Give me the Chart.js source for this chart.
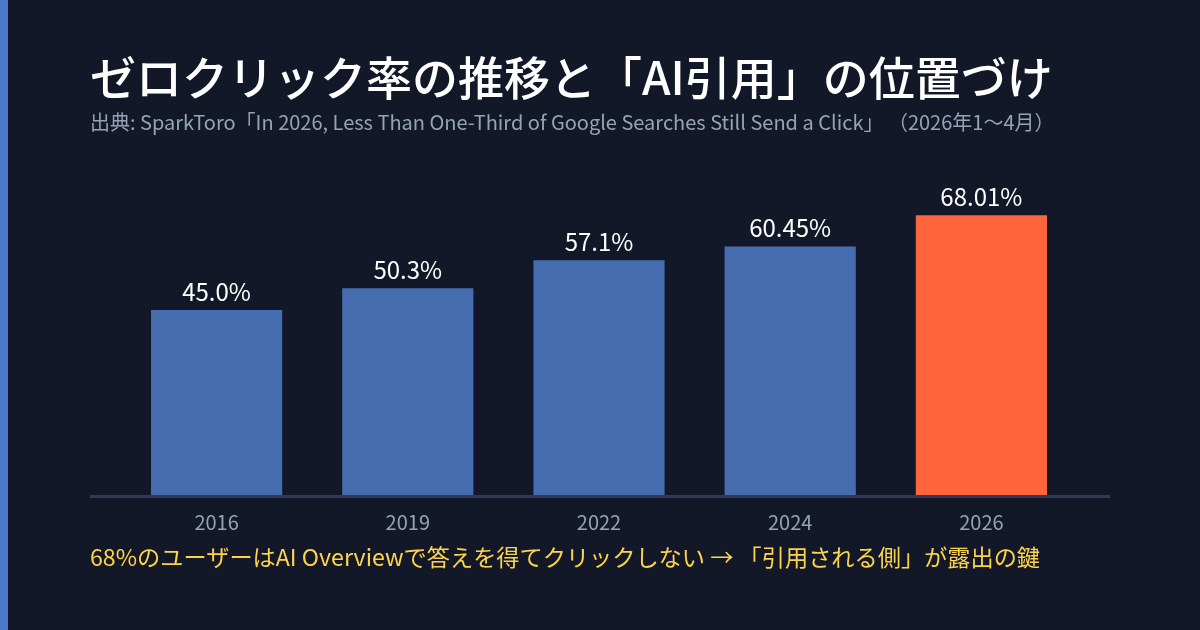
<!DOCTYPE html>
<html lang="ja">
<head>
<meta charset="utf-8">
<script src="https://cdn.jsdelivr.net/npm/chart.js@4/dist/chart.umd.min.js"></script>
<style>
  html, body { margin: 0; padding: 0; }
  body {
    width: 1200px; height: 630px; overflow: hidden; position: relative;
    background: #131829;
    font-family: "Noto Sans CJK JP", "Noto Sans", sans-serif;
  }
  .accent { position: absolute; left: 0; top: 0; width: 8px; height: 630px; background: #4a78c8; }
  h1 {
    position: absolute; left: 90px; top: 48px; margin: 0;
    font-size: 46px; font-weight: 500; color: #ffffff; line-height: 1.2; white-space: nowrap;
  }
  .sub {
    position: absolute; left: 90px; top: 108px; margin: 0;
    font-size: 20px; color: #94a3b8; line-height: 1.4; white-space: nowrap;
  }
  .note {
    position: absolute; left: 90px; top: 540px; margin: 0;
    font-size: 23.2px; color: #fcd34d; line-height: 1.4; white-space: nowrap;
  }
  #chartWrap { position: absolute; left: 0; top: 0; width: 1200px; height: 630px; }
</style>
</head>
<body>
<div class="accent"></div>
<div id="chartWrap"><canvas id="mainChart" width="1200" height="630"></canvas></div>
<h1>ゼロクリック率の推移と「AI引用」の位置づけ</h1>
<p class="sub">出典: SparkToro「In 2026, Less Than One-Third of Google Searches Still Send a Click」 （2026年1〜4月）</p>
<p class="note">68%のユーザーはAI Overviewで答えを得てクリックしない → 「引用される側」が露出の鍵</p>
<script>
const years = ['2016', '2019', '2022', '2024', '2026'];
const zeroClickRate = [45.0, 50.3, 57.1, 60.45, 68.01];
const valueLabels = ['45.0%', '50.3%', '57.1%', '60.45%', '68.01%'];
const barColors = ['#466db0', '#466db0', '#466db0', '#466db0', '#ff653d'];

// baseline across the plot, wider than the category area
const baseline = {
  id: 'baseline',
  afterDatasetsDraw(chart) {
    const { ctx, chartArea } = chart;
    ctx.save();
    ctx.strokeStyle = '#2f3a5a';
    ctx.lineWidth = 3;
    ctx.beginPath();
    ctx.moveTo(90, chartArea.bottom + 1.5);
    ctx.lineTo(1110, chartArea.bottom + 1.5);
    ctx.stroke();

    // value labels on top of bars
    const meta = chart.getDatasetMeta(0);
    ctx.fillStyle = '#ffffff';
    ctx.font = '24px "Noto Sans CJK JP", "Noto Sans", sans-serif';
    ctx.textAlign = 'center';
    ctx.textBaseline = 'alphabetic';
    meta.data.forEach((bar, i) => {
      ctx.fillText(valueLabels[i], bar.x, bar.y - 9);
    });
    ctx.restore();
  }
};

new Chart(document.getElementById('mainChart').getContext('2d'), {
  type: 'bar',
  data: {
    labels: years,
    datasets: [{
      data: zeroClickRate,
      backgroundColor: barColors,
      borderWidth: 0,
      barPercentage: 0.686,
      categoryPercentage: 1
    }]
  },
  options: {
    responsive: false,
    animation: false,
    layout: { padding: { left: 121, right: 123, top: 166, bottom: 81 } },
    scales: {
      y: { display: false, min: 0, max: 80 },
      x: {
        grid: { display: false, drawTicks: false },
        border: { display: false },
        ticks: {
          color: '#94a3b8',
          padding: 15,
          font: { family: '"Noto Sans CJK JP", "Noto Sans", sans-serif', size: 20 }
        }
      }
    },
    plugins: { legend: { display: false }, tooltip: { enabled: false } }
  },
  plugins: [baseline]
});
</script>
</body>
</html>
